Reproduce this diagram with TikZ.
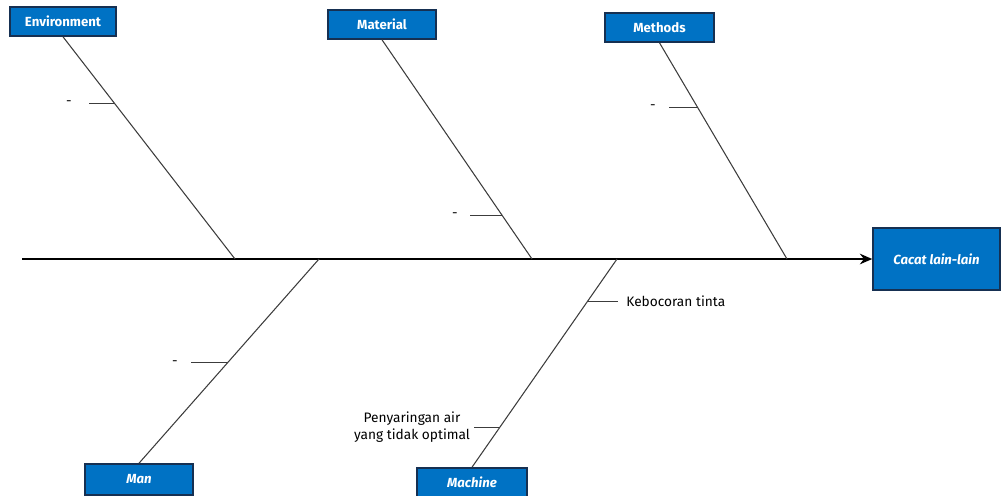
\documentclass[tikz,border=0pt]{standalone}
\usepackage{fontspec}
\setmainfont{Fira Sans}
\usetikzlibrary{arrows.meta,shadows,calc}
\definecolor{boxblue}{RGB}{0,114,196}
\definecolor{boxedge}{RGB}{22,48,82}
\definecolor{bonegray}{RGB}{60,60,60}
\begin{document}
\begin{tikzpicture}[x=0.02cm,y=-0.02cm,
  cause/.style={draw=boxedge, fill=boxblue, text=white, line width=0.9pt, inner sep=0pt,
    font=\fontsize{7.5}{9}\selectfont\bfseries,
    drop shadow={shadow xshift=0.7pt, shadow yshift=-0.7pt, opacity=0.35}},
  effect/.style={cause, font=\fontsize{7.5}{9}\selectfont\bfseries\itshape},
  bone/.style={draw=bonegray, line width=0.6pt},
  spine/.style={draw=black, line width=1.4pt, -{Stealth[length=7pt,width=6pt]}},
  note/.style={font=\fontsize{7.8}{10}\selectfont, text=black, inner sep=0pt}]
\useasboundingbox (0,0) rectangle (1004,495);

% cause categories and the effect
\node[cause, minimum width=2.12cm, minimum height=0.58cm] (env) at (63,21.5) {Environment};
\node[cause, minimum width=2.16cm, minimum height=0.58cm] (mat) at (382,24.5) {Material};
\node[cause, minimum width=2.18cm, minimum height=0.58cm] (met) at (659.5,27.5) {Methods};
\node[effect, minimum width=2.16cm, minimum height=0.62cm] (man) at (139,479.5) {Man};
\node[effect, minimum width=2.2cm, minimum height=0.58cm] (mac) at (472,482.5) {Machine};
\node[effect, minimum width=2.54cm, minimum height=1.24cm] (eff) at (936.5,259) {Cacat lain-lain};

% main spine
\coordinate (tail) at (22,259);
\draw[spine] (tail) -- (eff.west);

% joints on the spine
\coordinate (jE) at (235,259);
\coordinate (jMat) at (532,259);
\coordinate (jMet) at (787,259);
\coordinate (jMan) at (319,259);
\coordinate (jMac) at (617,259);

% main bones
\draw[bone] (env.south) -- (jE);
\draw[bone] (mat.south) -- (jMat);
\draw[bone] (met.south) -- (jMet);
\draw[bone] (jMan) -- (man.north);
\draw[bone] (jMac) -- (mac.north);

% sub-causes
\coordinate (e1) at ($(env.south)!0.30!(jE)$);
\node[note] (e1lab) at (69,103) {-};
\draw[bone] (e1) -- ++(-26,0) coordinate (e1end);

\coordinate (m1) at ($(mat.south)!0.80!(jMat)$);
\node[note] (m1lab) at (455,215) {-};
\draw[bone] (m1) -- ++(-32,0) coordinate (m1end);

\coordinate (t1) at ($(met.south)!0.30!(jMet)$);
\node[note] (t1lab) at (653,107) {-};
\draw[bone] (t1) -- ++(-29,0) coordinate (t1end);

\coordinate (p1) at ($(jMan)!0.507!(man.north)$);
\node[note] (p1lab) at (175,363) {-};
\draw[bone] (p1) -- ++(-37,0) coordinate (p1end);

\coordinate (k1) at ($(jMac)!0.206!(mac.north)$);
\node[note, anchor=west] (k1lab) at (626,301) {Kebocoran tinta};
\draw[bone] (k1) -- ++(31,0) coordinate (k1end);

\coordinate (k2) at ($(jMac)!0.809!(mac.north)$);
\node[note, align=center] (k2lab) at (412,427) {Penyaringan air\\yang tidak optimal};
\draw[bone] (k2) -- ++(-26,0) coordinate (k2end);
\end{tikzpicture}
\end{document}
